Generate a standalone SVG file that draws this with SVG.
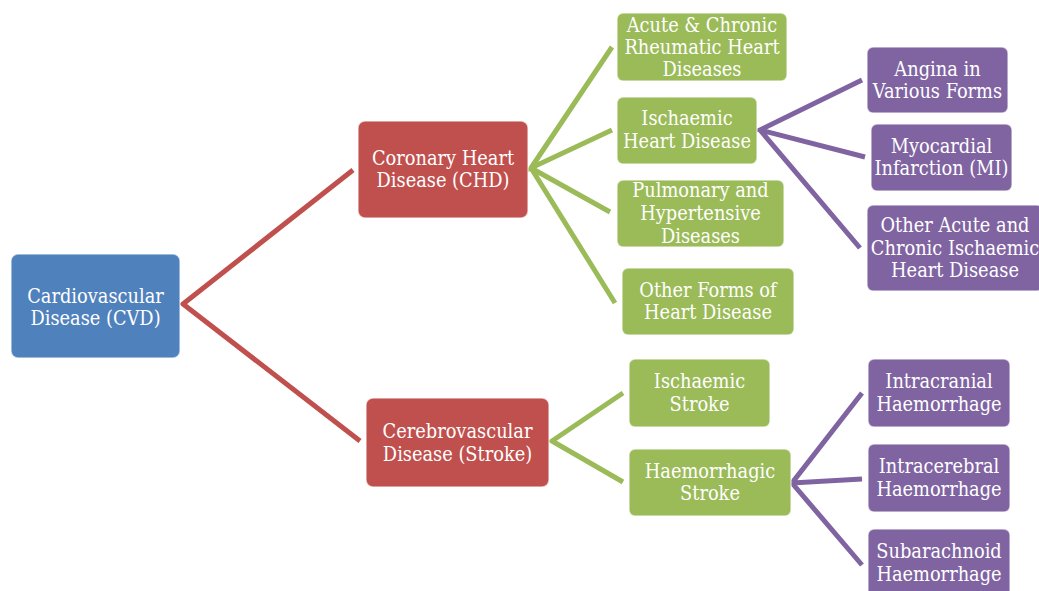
<svg xmlns="http://www.w3.org/2000/svg" width="1039" height="591" viewBox="0 0 1039 591">
<style>
.n{stroke:#ffffff;stroke-opacity:0.6;stroke-width:1.5}
.b{fill:#4F81BD}.r{fill:#C0504D}.g{fill:#9BBB59}.p{fill:#8064A2}
text{font-family:"DejaVu Serif Condensed","DejaVu Serif",serif;font-size:19.8px;fill:#ffffff;text-anchor:middle}
.c{fill:none;stroke-width:5;stroke-linejoin:miter}
</style>
<rect width="1039" height="591" fill="#ffffff"/>
<g id="connectors">
<path class="c" stroke="#C0504D" d="M353,170 L183,304 L360,441"/>
<path class="c" stroke="#9BBB59" d="M612,47 L531,168 L612,130 M531,168 L610,212 M531,168 L615,303"/>
<path class="c" stroke="#9BBB59" d="M623,393 L552,441 L623,482"/>
<path class="c" stroke="#8064A2" d="M862,80 L760,130 L865,157 M760,130 L860,248"/>
<path class="c" stroke="#8064A2" d="M862,393 L792,483 L862,479 M792,483 L862,565"/>
</g>
<g id="cvd"><rect class="n b" x="11" y="254" width="169" height="104" rx="7"/><text x="95.5" y="303">Cardiovascular</text><text x="95.5" y="325">Disease (CVD)</text></g>
<g id="chd"><rect class="n r" x="358" y="121" width="170" height="97" rx="7"/><text x="443" y="165">Coronary Heart</text><text x="443" y="187">Disease (CHD)</text></g>
<g id="stroke"><rect class="n r" x="366" y="398" width="183" height="89" rx="7"/><text x="457.5" y="438">Cerebrovascular</text><text x="457.5" y="461">Disease (Stroke)</text></g>
<g id="rheumatic"><rect class="n g" x="617" y="13" width="170" height="68" rx="6"/><text x="702" y="32">Acute &amp; Chronic</text><text x="702" y="54">Rheumatic Heart</text><text x="702" y="76">Diseases</text></g>
<g id="ihd"><rect class="n g" x="617" y="97" width="140" height="67" rx="6"/><text x="687" y="125">Ischaemic</text><text x="687" y="148">Heart Disease</text></g>
<g id="pulmonary"><rect class="n g" x="617" y="180" width="167" height="67" rx="6"/><text x="700.5" y="197">Pulmonary and</text><text x="700.5" y="220">Hypertensive</text><text x="700.5" y="243">Diseases</text></g>
<g id="otherforms"><rect class="n g" x="622" y="268" width="172" height="67" rx="6"/><text x="708" y="297">Other Forms of</text><text x="708" y="319">Heart Disease</text></g>
<g id="angina"><rect class="n p" x="867" y="47" width="141" height="66" rx="6"/><text x="937.5" y="76">Angina in</text><text x="937.5" y="98">Various Forms</text></g>
<g id="mi"><rect class="n p" x="871" y="124" width="141" height="67" rx="6"/><text x="941.5" y="153">Myocardial</text><text x="941.5" y="175">Infarction (MI)</text></g>
<g id="otheracute"><rect class="n p" x="867" y="205" width="176" height="86" rx="6"/><text x="955" y="232">Other Acute and</text><text x="955" y="255">Chronic Ischaemic</text><text x="955" y="277">Heart Disease</text></g>
<g id="ischstroke"><rect class="n g" x="629" y="359" width="141" height="68" rx="6"/><text x="699.5" y="388">Ischaemic</text><text x="699.5" y="411">Stroke</text></g>
<g id="haemstroke"><rect class="n g" x="629" y="449" width="162" height="67" rx="6"/><text x="710" y="478">Haemorrhagic</text><text x="710" y="500">Stroke</text></g>
<g id="intracranial"><rect class="n p" x="868" y="359" width="142" height="68" rx="6"/><text x="939" y="388">Intracranial</text><text x="939" y="411">Haemorrhage</text></g>
<g id="intracerebral"><rect class="n p" x="868" y="444" width="142" height="68" rx="6"/><text x="939" y="473">Intracerebral</text><text x="939" y="496">Haemorrhage</text></g>
<g id="subarachnoid"><rect class="n p" x="868" y="529" width="142" height="68" rx="6"/><text x="939" y="558">Subarachnoid</text><text x="939" y="581">Haemorrhage</text></g>
</svg>
